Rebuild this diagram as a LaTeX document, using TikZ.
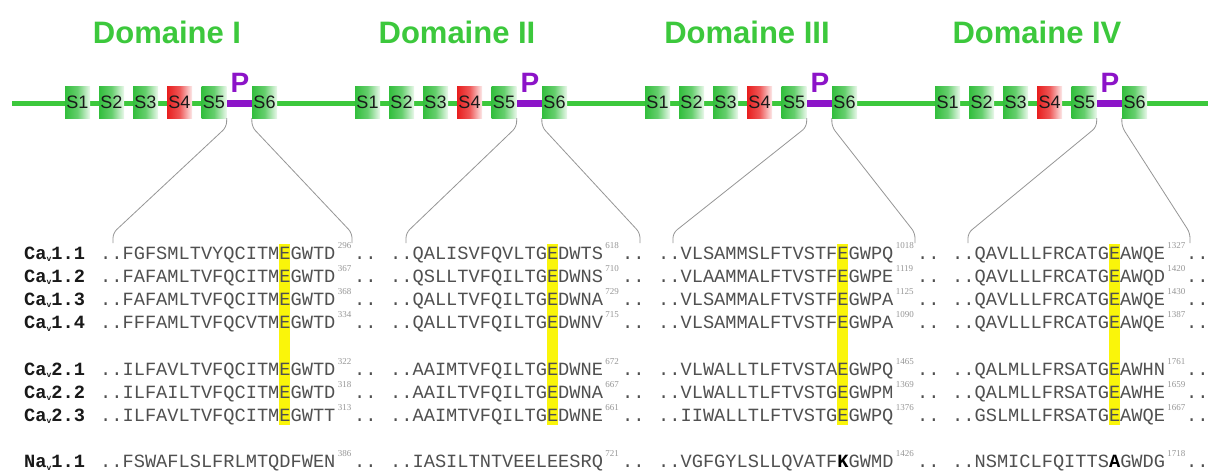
\documentclass[tikz,border=0pt]{standalone}
\usepackage{fontspec}
\setmainfont{Liberation Sans}
\newfontfamily\seqfont{Liberation Mono}
\newfontfamily\supfont{Liberation Serif}
\definecolor{dgreen}{RGB}{60,200,60}
\definecolor{boxg}{RGB}{50,190,60}
\definecolor{boxr}{RGB}{232,30,30}
\definecolor{pviolet}{RGB}{140,20,200}
\definecolor{seqgray}{RGB}{80,80,80}
\definecolor{supgray}{RGB}{150,150,150}
\definecolor{hly}{RGB}{250,245,10}
\definecolor{conngray}{RGB}{150,150,150}
\tikzset{
  backbone/.style={draw=dgreen, line width=5pt},
  pline/.style={draw=pviolet, line width=7pt},
  sbox/.style={minimum width=25pt, minimum height=32pt, inner sep=0pt,
    left color=boxg, right color=boxg!10, middle color=boxg!75,
    font=\fontsize{18}{18}\selectfont, text=black!90},
  rbox/.style={sbox, left color=boxr, right color=boxr!10, middle color=boxr!75},
  titletext/.style={anchor=base, inner sep=0pt, text=dgreen, font=\bfseries\fontsize{31}{31}\selectfont},
  ptext/.style={anchor=base, inner sep=0pt, text=pviolet, font=\bfseries\fontsize{28}{28}\selectfont},
  conn/.style={draw=conngray, line width=0.8pt, rounded corners=5pt},
  seq/.style={anchor=base west, inner sep=0pt, text=seqgray, font=\seqfont\fontsize{18.67}{20}\selectfont},
  lab/.style={seq, text=black!90, font=\seqfont\bfseries\fontsize{18.67}{20}\selectfont},
  suptext/.style={anchor=base west, inner sep=0pt, text=supgray, font=\supfont\fontsize{9}{9}\selectfont},
  hlbar/.style={fill=hly}
}
\begin{document}
\begin{tikzpicture}[x=1pt,y=-1pt]
\useasboundingbox (0,0) rectangle (1208,471);
\fill[white] (0,0) rectangle (1208,471);
% backbone
\coordinate (bbstart) at (12,103);
\coordinate (bbend) at (1208,103);
\draw[backbone] (bbstart) -- (bbend);
% domains
\foreach \k/\nm/\L/\R in {0/I/113/352, 1/II/406/640, 2/III/673/915, 3/IV/968/1190}{
  \pgfmathsetmacro\dx{290*\k}
  \node[titletext] (t\k) at (167+\dx,43) {Domaine \nm};
  \coordinate (pl\k) at (226+\dx,103);
  \coordinate (pr\k) at (253+\dx,103);
  \draw[pline] (pl\k) -- (pr\k);
  \node[sbox] (a1\k) at (77.5+\dx,102) {S1};
  \node[sbox] (a2\k) at (111.5+\dx,102) {S2};
  \node[sbox] (a3\k) at (145.5+\dx,102) {S3};
  \node[rbox] (a4\k) at (179.5+\dx,102) {S4};
  \node[sbox] (a5\k) at (214+\dx,102) {S5};
  \node[sbox] (a6\k) at (264.5+\dx,102) {S6};
  \node[ptext] (p\k) at (240+\dx,92) {P};
  \coordinate (lt\k) at (226.5+\dx,127);
  \coordinate (lb\k) at (\L,233);
  \coordinate (le\k) at (\L,243);
  \coordinate (rt\k) at (252+\dx,127);
  \coordinate (rb\k) at (\R,233);
  \coordinate (re\k) at (\R,243);
  \draw[conn] (a5\k.south east) -- (lt\k) -- (lb\k) -- (le\k);
  \draw[conn] (a6\k.south west) -- (rt\k) -- (rb\k) -- (re\k);
}
% highlight bars
\fill[hlbar] (279.2,244) rectangle (290.4,425);
\fill[hlbar] (546.8,244) rectangle (558.0,425);
\fill[hlbar] (837.2,244) rectangle (848.4,425);
\fill[hlbar] (1108.8,244) rectangle (1120.0,425);
% sequence rows
\foreach \id/\y/\pre/\num/\sa/\na/\sb/\nb/\sc/\nc/\sd/\nd in {
 r1/259/Ca/1.1/FGFSMLTVYQCITMEGWTD/296/QALISVFQVLTGEDWTS/618/VLSAMMSLFTVSTFEGWPQ/1018/QAVLLLFRCATGEAWQE/1327,
 r2/282.2/Ca/1.2/FAFAMLTVFQCITMEGWTD/367/QSLLTVFQILTGEDWNS/710/VLAAMMALFTVSTFEGWPE/1119/QAVLLLFRCATGEAWQD/1420,
 r3/305.4/Ca/1.3/FAFAMLTVFQCITMEGWTD/368/QALLTVFQILTGEDWNA/729/VLSAMMALFTVSTFEGWPA/1125/QAVLLLFRCATGEAWQE/1430,
 r4/328.6/Ca/1.4/FFFAMLTVFQCVTMEGWTD/334/QALLTVFQILTGEDWNV/715/VLSAMMALFTVSTFEGWPA/1090/QAVLLLFRCATGEAWQE/1387,
 r5/375/Ca/2.1/ILFAVLTVFQCITMEGWTD/322/AAIMTVFQILTGEDWNE/672/VLWALLTLFTVSTAEGWPQ/1465/QALMLLFRSATGEAWHN/1761,
 r6/398.2/Ca/2.2/ILFAILTVFQCITMEGWTD/318/AAILTVFQILTGEDWNA/667/VLWALLTLFTVSTGEGWPM/1369/QALMLLFRSATGEAWHE/1659,
 r7/421.4/Ca/2.3/ILFAVLTVFQCITMEGWTT/313/AAIMTVFQILTGEDWNE/661/IIWALLTLFTVSTGEGWPQ/1376/GSLMLLFRSATGEAWQE/1667,
 r8/467.8/Na/1.1/FSWAFLSLFRLMTQDFWEN/386/IASILTNTVEELEESRQ/721/VGFGYLSLLQVATF{\bfseries\color{black}K}GWMD/1426/NSMICLFQITTS{\bfseries\color{black}A}GWDG/1718}{
  \node[lab] (l-\id) at (24,\y) {\pre\raisebox{-2.5pt}{\fontsize{8}{8}\selectfont v}\num};
  \node[seq] (da-\id) at (100,\y) {..\sa};
  \node[suptext] (na-\id) at ([xshift=2pt,yshift=11pt]da-\id.base east) {\na};
  \node[seq] (ea-\id) at (354,\y) {..};
  \node[seq] (db-\id) at (390,\y) {..\sb};
  \node[suptext] (nb-\id) at ([xshift=2pt,yshift=11pt]db-\id.base east) {\nb};
  \node[seq] (eb-\id) at (622,\y) {..};
  \node[seq] (dc-\id) at (658,\y) {..\sc};
  \node[suptext] (nc-\id) at ([xshift=2pt,yshift=11pt]dc-\id.base east) {\nc};
  \node[seq] (ec-\id) at (917,\y) {..};
  \node[seq] (dd-\id) at (952,\y) {..\sd};
  \node[suptext] (nd-\id) at ([xshift=2pt,yshift=11pt]dd-\id.base east) {\nd};
  \node[seq] (ed-\id) at (1186,\y) {..};
}
\end{tikzpicture}
\end{document}
